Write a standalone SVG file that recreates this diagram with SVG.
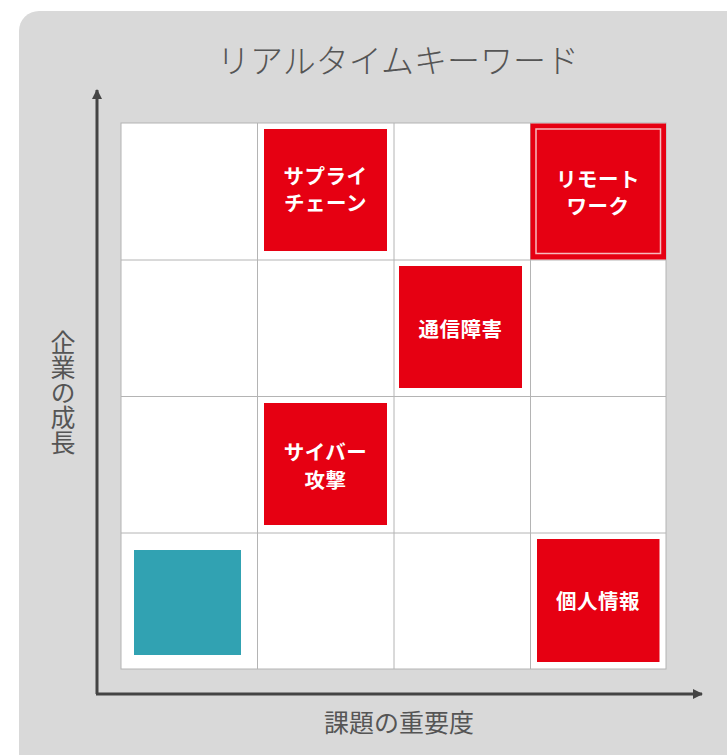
<svg xmlns="http://www.w3.org/2000/svg" width="727" height="755" viewBox="0 0 727 755">
<defs>
<style>
.jp{font-family:"Noto Sans CJK JP","Noto Sans",sans-serif;}
.title{font-size:33px;fill:#555;font-weight:300;}
.axis{font-size:25px;fill:#555;}
.lbl{font-size:20.5px;font-weight:bold;fill:#fff;letter-spacing:0.5px;}
.grid{stroke:#b4b4b4;stroke-width:1;fill:none;}
.box{fill:#e60012;}
.ax{stroke:#444;stroke-width:3;fill:none;}
</style>
<marker id="arr" viewBox="0 0 10 10" refX="9" refY="5" markerWidth="10" markerHeight="10" markerUnits="userSpaceOnUse" orient="auto-start-reverse">
<path d="M0,0 L10,5 L0,10 Z" fill="#444"/>
</marker>
</defs>
<rect x="0" y="0" width="727" height="755" fill="#fff"/>
<rect x="19" y="11" width="740" height="770" rx="20" fill="#d9d9d9"/>
<text class="jp title" x="398" y="73" text-anchor="middle">リアルタイムキーワード</text>
<g id="grid">
<rect x="121" y="123" width="545" height="546" fill="#fff" stroke="#b4b4b4"/>
<path class="grid" d="M257.5,123V669M394,123V669M530.5,123V669M121,260H666M121,396.5H666M121,533H666"/>
</g>
<g id="connectors">
<path class="ax" d="M97,694V90" marker-end="url(#arr)"/>
<path class="ax" d="M96,694H702" marker-end="url(#arr)"/>
</g>
<text class="jp axis" x="63" y="392" text-anchor="middle" style="writing-mode:vertical-rl">企業の成長</text>
<text class="jp axis" x="399" y="732" text-anchor="middle">課題の重要度</text>
<g id="supply-chain">
<rect class="box" x="264" y="129" width="123" height="122"/>
<text class="jp lbl" x="325.5" y="174.5" text-anchor="middle" dominant-baseline="central">サプライ</text>
<text class="jp lbl" x="325.5" y="202" text-anchor="middle" dominant-baseline="central">チェーン</text>
</g>
<g id="remote-work">
<rect class="box" x="530.5" y="123.5" width="135.5" height="136"/>
<rect x="536" y="129" width="124.5" height="124.5" fill="none" stroke="#f7b9bd" stroke-width="1.5"/>
<text class="jp lbl" x="598" y="177.5" text-anchor="middle" dominant-baseline="central">リモート</text>
<text class="jp lbl" x="598" y="205" text-anchor="middle" dominant-baseline="central">ワーク</text>
</g>
<g id="network-failure">
<rect class="box" x="399" y="266" width="123" height="122"/>
<text class="jp lbl" x="460.5" y="328" text-anchor="middle" dominant-baseline="central">通信障害</text>
</g>
<g id="cyber-attack">
<rect class="box" x="264" y="403" width="123" height="122"/>
<text class="jp lbl" x="325.5" y="451" text-anchor="middle" dominant-baseline="central">サイバー</text>
<text class="jp lbl" x="325.5" y="478.5" text-anchor="middle" dominant-baseline="central">攻撃</text>
</g>
<g id="personal-info">
<rect class="box" x="537" y="539" width="122.5" height="123"/>
<text class="jp lbl" x="598" y="600" text-anchor="middle" dominant-baseline="central">個人情報</text>
</g>
<g id="teal">
<rect x="134" y="550" width="107" height="105" fill="#31a2b2"/>
</g>
</svg>
